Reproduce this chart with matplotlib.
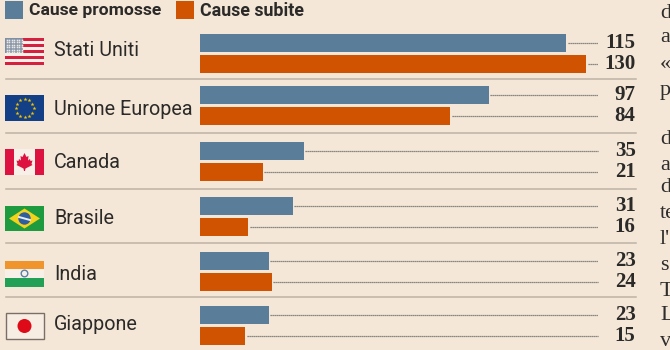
import numpy as np
import matplotlib
matplotlib.use('Agg')
import matplotlib.pyplot as plt
from matplotlib.patches import Rectangle, Circle, Polygon

countries = ['Stati Uniti', 'Unione Europea', 'Canada', 'Brasile', 'India', 'Giappone']
# printed numbers
promosse = [115, 97, 35, 31, 23, 23]
subite = [130, 84, 21, 16, 24, 15]
# bar lengths as drawn (the 115 bar is drawn longer than its number)
promosse_len = [123.3, 97.2, 35, 31.2, 23.2, 23.2]
subite_len = [130, 84.2, 21.2, 16.2, 24.2, 15.2]
legend_labels = ['Cause promosse', 'Cause subite']
side_text = ['d', 'a', '«', 'p', 'd', 'a', 'd', 'te', "l'", 's', 'T', 'L', 'v']

BG = '#F4E7D8'
BLUE = '#5A7D99'
ORANGE = '#CF5300'
INK = '#2B2A28'
W, H = 670, 350
SCALE = 2.97  # px per unit

row_mid = [53.5, 105.5, 161.5, 216.5, 271.5, 325.5]
sep_y = [79, 133, 189, 243, 297]
flag_top = [38, 95, 149, 206, 260, 313]
flag_bot = [65, 121, 175, 231, 287, 339]
name_y = [51, 109.5, 163, 219, 274, 325]
side_y = [13, 38, 64, 90, 139, 165, 188, 214, 240, 266, 291, 316, 341]

fig = plt.figure(figsize=(W / 100, H / 100), dpi=100, facecolor=BG)

# bars: x in data units, y in pixels
ax = fig.add_axes([0, 0, 1, 1])
ax.set_xlim(-200 / SCALE, (W - 200) / SCALE)
ax.set_ylim(H, 0)
ax.axis('off')
y = np.array(row_mid)
ax.barh(y - 10.2, promosse_len, height=18.2, color=BLUE)
ax.barh(y + 10.2, subite_len, height=18.2, color=ORANGE)
leader_end = 398 / SCALE
for i in range(len(countries)):
    ax.plot([promosse_len[i] + 0.5, leader_end], [y[i] - 10.2] * 2, color='#6a6864', lw=0.9, ls=(0, (1, 0.6)))
    ax.plot([subite_len[i] + 0.5, leader_end], [y[i] + 10.2] * 2, color='#6a6864', lw=0.9, ls=(0, (1, 0.6)))

# everything else in pixels
px = fig.add_axes([0, 0, 1, 1])
px.set_xlim(0, W)
px.set_ylim(H, 0)
px.axis('off')
px.patch.set_alpha(0)

for s in sep_y:
    px.plot([6, 636], [s, s], color='#BDB2A4', lw=1.1)

for i, name in enumerate(countries):
    px.text(54, name_y[i], name, fontsize=14.2, family='Roboto', color=INK, va='center', ha='left')
    px.text(635.5, y[i] - 10.2, str(promosse[i]), fontsize=15, family='Liberation Serif', weight='bold', color=INK, va='center', ha='right')
    px.text(635.5, y[i] + 10.2, str(subite[i]), fontsize=15, family='Liberation Serif', weight='bold', color=INK, va='center', ha='right')

# legend
px.add_patch(Rectangle((5, 1), 18, 18, color=BLUE, lw=0))
px.add_patch(Rectangle((176, 1), 18, 18, color=ORANGE, lw=0))
px.text(29, 11, legend_labels[0], fontsize=12.6, family='Roboto', weight='bold', color=INK, va='center')
px.text(200, 11, legend_labels[1], fontsize=12.8, family='Roboto', weight='bold', color=INK, va='center')

# text of the next column, cut by the edge
for t, sy in zip(side_text, side_y):
    px.text(660, sy, t, fontsize=16, family='Liberation Serif', color='#2f2d2b', va='center', ha='left')


def flag_usa(t, b):
    h = (b - t) / 9
    for k in range(9):
        c = '#D5203F' if k % 2 == 0 else '#F7F0E8'
        px.add_patch(Rectangle((5, t + k * h), 39, h, color=c, lw=0))
    px.add_patch(Rectangle((5, t), 18, 5 * h, color='#7F8FA6', lw=0))
    for sx in np.arange(6.5, 23, 2.5):
        for sy in np.arange(t + 1.5, t + 5 * h, 2.5):
            px.plot([sx], [sy], 's', ms=1.2, color='#EDE8E2', mew=0)


def flag_eu(t, b):
    px.add_patch(Rectangle((5, t), 39, b - t, color='#123F86', lw=0))
    ang = np.linspace(0, 2 * np.pi, 12, endpoint=False)
    px.scatter(24.5 + 9 * np.cos(ang), (t + b) / 2 + 9 * np.sin(ang), s=9, marker='*', color='#F5C400', lw=0)


def flag_canada(t, b):
    px.add_patch(Rectangle((5, t), 39, b - t, color='#F7F0E8', lw=0))
    px.add_patch(Rectangle((5, t), 9, b - t, color='#DE1240', lw=0))
    px.add_patch(Rectangle((35, t), 9, b - t, color='#DE1240', lw=0))
    m = (t + b) / 2
    half = [(0, -9), (2, -5), (4, -6), (3.5, -1.5), (5.5, -3), (6, -1), (8, -1.5), (7, 2), (8, 3), (1, 6.5), (0.5, 9)]
    leaf = half + [(-a, c) for a, c in half[::-1][:-1]]
    px.add_patch(Polygon([(24.5 + a, m + c) for a, c in leaf], color='#DE1240', lw=0))


def flag_brasil(t, b):
    m = (t + b) / 2
    px.add_patch(Rectangle((5, t), 39, b - t, color='#1E9B3F', lw=0))
    px.add_patch(Polygon([(9, m), (24.5, t + 2.5), (40, m), (24.5, b - 2.5)], color='#F3D21B', lw=0))
    px.add_patch(Circle((24.5, m), 6.2, color='#2F5E9E', lw=0))
    px.plot([19, 30], [m - 1.5, m + 1.5], color='#E8EEF0', lw=1.4)


def flag_india(t, b):
    h = (b - t) / 3
    px.add_patch(Rectangle((5, t + 1), 39, h - 1, color='#F0952B', lw=0))
    px.add_patch(Rectangle((5, t + h), 39, h, color='#F7F0E8', lw=0))
    px.add_patch(Rectangle((5, t + 2 * h), 39, h, color='#22A055', lw=0))
    px.add_patch(Circle((24.5, t + 1.5 * h), 3.3, fill=False, ec='#5C7FA8', lw=1))


def flag_japan(t, b):
    px.add_patch(Rectangle((5.5, t), 38.5, b - t, fc='#F7EDE2', ec='#7A6F66', lw=1))
    px.add_patch(Circle((24.5, (t + b) / 2), 7, color='#DE0A17', lw=0))


for fn, t, b in zip([flag_usa, flag_eu, flag_canada, flag_brasil, flag_india, flag_japan], flag_top, flag_bot):
    fn(t, b)

fig.savefig('out.png', dpi=100, facecolor=BG)
